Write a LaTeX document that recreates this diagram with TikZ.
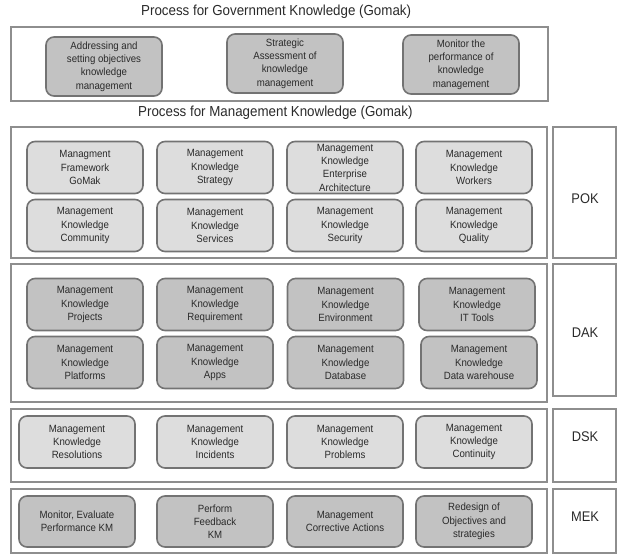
\documentclass[tikz,border=0pt]{standalone}
\usepackage{fontspec}
\setmainfont{Liberation Sans}[FakeStretch=0.92]
\definecolor{darkfill}{HTML}{C2C2C2}
\definecolor{lightfill}{HTML}{DDDDDD}
\definecolor{boxline}{HTML}{737373}
\definecolor{frameline}{HTML}{8E8E8E}
\definecolor{txt}{HTML}{2A2A2A}
\begin{document}
\begin{tikzpicture}[x=1pt,y=-1pt,
  frame/.style={draw=frameline,line width=2pt},
  tagframe/.style={draw=frameline,line width=1.5pt},
  kbox/.style={draw=boxline,line width=1.6pt,rounded corners=8pt,minimum width=116pt,
    minimum height=52pt,align=center,inner sep=0pt,
    font=\fontsize{10.5}{13.3}\selectfont,text=txt},
  darkbox/.style={kbox,fill=darkfill},
  lightbox/.style={kbox,fill=lightfill},
  title/.style={font=\fontsize{14.5}{16}\selectfont,text=txt,inner sep=0pt},
  tag/.style={font=\fontsize{14}{16}\selectfont,text=txt,inner sep=0pt}]
\useasboundingbox (0,0) rectangle (620,554);
% titles
\node[title,anchor=west] (t1) at (141,12) {Process for Government Knowledge (Gomak)};
\node[title,anchor=west] (t2) at (138,113) {Process for Management Knowledge (Gomak)};
% frames
\draw[frame] (11,27) rectangle (548,101);
\draw[frame] (11,127) rectangle (547,258);
\draw[frame] (11,264) rectangle (547,402);
\draw[frame] (11,409) rectangle (547,482);
\draw[frame] (11,489) rectangle (547,553);
\draw[tagframe] (553,127) rectangle (616,258);
\draw[tagframe] (553,264) rectangle (616,396);
\draw[tagframe] (553,409) rectangle (616,482);
\draw[tagframe] (553,489) rectangle (616,553);
% labels
\node[tag] (pok) at (585,199) {POK};
\node[tag] (dak) at (585,333) {DAK};
\node[tag] (dsk) at (585,437) {DSK};
\node[tag] (mek) at (585,517) {MEK};
% government
\node[darkbox,minimum height=59pt] (g1) at (104,66.5) {Addressing and\\setting objectives\\knowledge\\management};
\node[darkbox,minimum height=59pt] (g2) at (285,63.5) {Strategic\\Assessment of\\knowledge\\management};
\node[darkbox,minimum height=59pt] (g3) at (461,64.5) {Monitor the\\performance of\\knowledge\\management};
% POK
\node[lightbox] (p1) at (85,167.5) {Managment\\Framework\\GoMak};
\node[lightbox] (p2) at (215,167.5) {Management\\Knowledge\\Strategy};
\node[lightbox] (p3) at (345,167.5) {Management\\Knowledge\\Enterprise\\Architecture};
\node[lightbox] (p4) at (474,167.5) {Management\\Knowledge\\Workers};
\node[lightbox] (p5) at (85,225.5) {Management\\Knowledge\\Community};
\node[lightbox] (p6) at (215,225.5) {Management\\Knowledge\\Services};
\node[lightbox] (p7) at (345,225.5) {Management\\Knowledge\\Security};
\node[lightbox] (p8) at (474,225.5) {Management\\Knowledge\\Quality};
% DAK
\node[darkbox] (d1) at (85,304.5) {Management\\Knowledge\\Projects};
\node[darkbox] (d2) at (215,304.5) {Management\\Knowledge\\Requirement};
\node[darkbox] (d3) at (345.5,304.5) {Management\\Knowledge\\Environment};
\node[darkbox] (d4) at (477,304.5) {Management\\Knowledge\\IT Tools};
\node[darkbox] (d5) at (85,362.5) {Management\\Knowledge\\Platforms};
\node[darkbox] (d6) at (215,362.5) {Management\\Knowledge\\Apps};
\node[darkbox] (d7) at (345.5,362.5) {Management\\Knowledge\\Database};
\node[darkbox] (d8) at (479,362.5) {Management\\Knowledge\\Data warehouse};
% DSK
\node[lightbox] (s1) at (77,442) {Management\\Knowledge\\Resolutions};
\node[lightbox] (s2) at (215,442) {Management\\Knowledge\\Incidents};
\node[lightbox] (s3) at (345,442) {Management\\Knowledge\\Problems};
\node[lightbox] (s4) at (474,442) {Management\\Knowledge\\Continuity};
% MEK
\node[darkbox,minimum height=51pt] (m1) at (77,521.5) {Monitor, Evaluate\\Performance KM};
\node[darkbox,minimum height=51pt] (m2) at (215,521.5) {Perform\\Feedback\\KM};
\node[darkbox,minimum height=51pt] (m3) at (345,521.5) {Management\\Corrective Actions};
\node[darkbox,minimum height=51pt] (m4) at (474,521.5) {Redesign of\\Objectives and\\strategies};
\end{tikzpicture}
\end{document}
